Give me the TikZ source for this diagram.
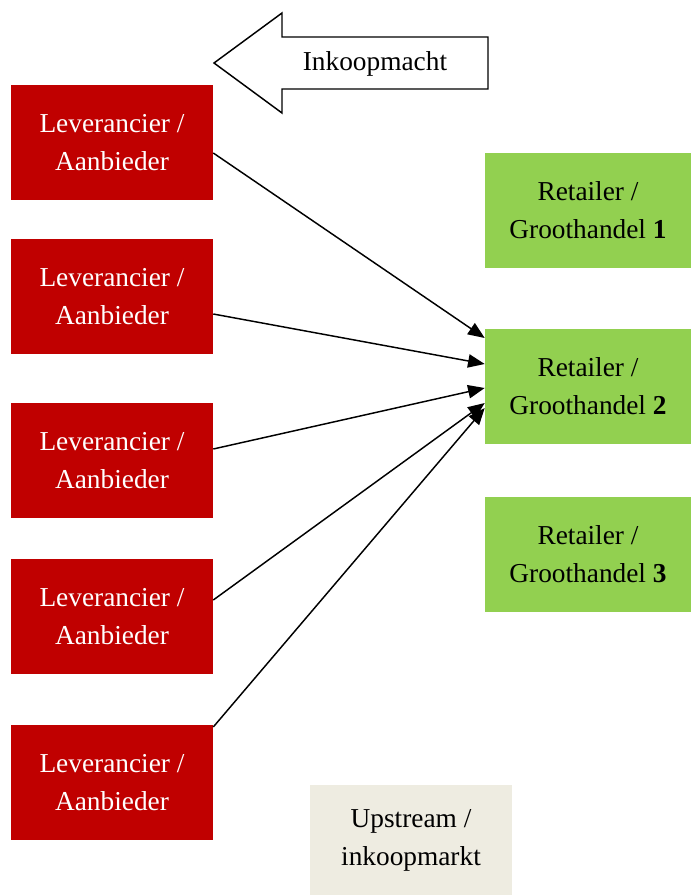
\documentclass[tikz,border=0pt]{standalone}
\usepackage{fontspec}
\setmainfont{Liberation Serif}
\usetikzlibrary{arrows.meta,calc}

\definecolor{supplierred}{HTML}{C00000}
\definecolor{retailgreen}{HTML}{92D050}
\definecolor{marketbeige}{HTML}{EEECE1}

\begin{document}
\begin{tikzpicture}[x=0.75pt,y=-0.75pt,
	box/.style={inner sep=0pt, align=center, font=\fontsize{20.5}{28.5}\selectfont},
	supplier/.style={box, fill=supplierred, text=white, minimum width=151.5pt, minimum height=86.25pt},
	retailer/.style={box, fill=retailgreen, minimum width=154.5pt, minimum height=86.25pt},
	market/.style={box, fill=marketbeige, minimum width=151.5pt, minimum height=82.5pt},
	flow/.style={line width=1.1pt, -{Triangle[length=12.5pt, width=10pt]}}]

\path [use as bounding box] (0,0) rectangle (691,895);

% SUPPLIERS
\node [supplier] (l1) at (112,142.5) {Leverancier /\\Aanbieder};
\node [supplier] (l2) at (112,296.5) {Leverancier /\\Aanbieder};
\node [supplier] (l3) at (112,460.5) {Leverancier /\\Aanbieder};
\node [supplier] (l4) at (112,616.5) {Leverancier /\\Aanbieder};
\node [supplier] (l5) at (112,782.5) {Leverancier /\\Aanbieder};

% RETAILERS
\node [retailer] (g1) at (588,210.5) {Retailer /\\Groothandel \textbf{1}};
\node [retailer] (g2) at (588,386.5) {Retailer /\\Groothandel \textbf{2}};
\node [retailer] (g3) at (588,554.5) {Retailer /\\Groothandel \textbf{3}};

% MARKET
\node [market] (up) at (411,840) {Upstream /\\inkoopmarkt};

% BUYING POWER
\draw [line width=1.1pt, fill=white]
	(214,63) -- (282,13) -- (282,37) -- (488,37) --
	(488,89) -- (282,89) -- (282,113) -- cycle;
\node [box] (power) at (375,64) {Inkoopmacht};

% FLOWS
\draw [flow] ($(l1.east)+(0,10.5)$) -- ($(g2.west)+(0,-48.5)$);
\draw [flow] ($(l2.east)+(0,17.5)$) -- ($(g2.west)+(0,-22.5)$);
\draw [flow] ($(l3.east)+(0,-11.5)$) -- ($(g2.west)+(0,1.5)$);
\draw [flow] ($(l4.east)+(0,-16.5)$) -- ($(g2.west)+(0,16.5)$);
\draw [flow] ($(l5.east)+(0,-55.5)$) -- ($(g2.west)+(0,21.5)$);

\end{tikzpicture}
\end{document}
